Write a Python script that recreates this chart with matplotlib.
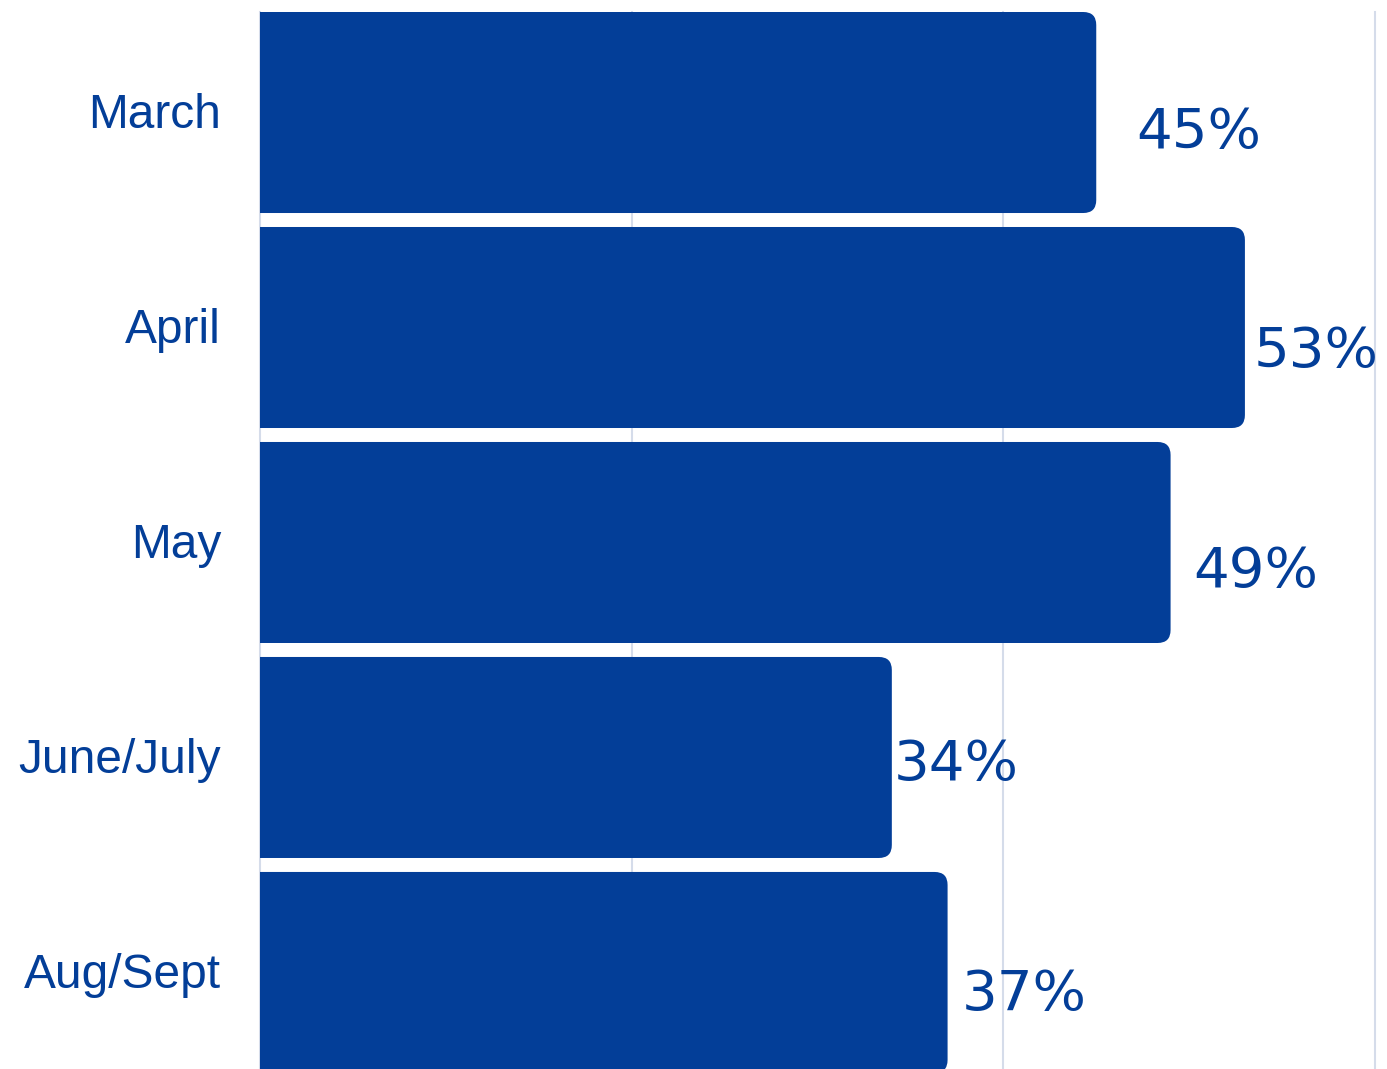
import matplotlib.pyplot as plt
from matplotlib.patches import FancyBboxPatch
from matplotlib.transforms import ScaledTranslation

months = ["March", "April", "May", "June/July", "Aug/Sept"]
shares = [45, 53, 49, 34, 37]
labels = ["45%", "53%", "49%", "34%", "37%"]

# where each value label sits relative to the end of its bar (pixels)
label_dx = [40, 9, 23, 2, 14]
label_dy = [-20, -25, -30, -8, -23]

blue = "#033e98"
grid = "#d5dcea"

fig = plt.figure(figsize=(13.87, 10.69), dpi=100)
ax = fig.add_axes([260 / 1387, 0, 1115 / 1387, 1057 / 1069])

ypos = list(range(len(months)))
bars = ax.barh(ypos, shares, height=0.935, color=blue, zorder=2)

ax.set_xlim(0, 60)
ax.set_ylim(4.449, -0.4675)

# swap the plain rectangles for ones rounded at the right end
px_x = 1115 / 60
px_y = 215
r = 13 / px_x
for b in bars:
    x, y = b.get_x(), b.get_y()
    w, h = b.get_width(), b.get_height()
    b.set_visible(False)
    box = FancyBboxPatch((x - 3, y), w + 3, h,
                         boxstyle=f"round,pad=0,rounding_size={r}",
                         mutation_aspect=px_x / px_y,
                         facecolor=blue, edgecolor="none", zorder=2)
    ax.add_patch(box)

for i, (v, t) in enumerate(zip(shares, labels)):
    ax.annotate(t, (v, i), xytext=(label_dx[i], label_dy[i]),
                textcoords="offset pixels", ha="left", va="center",
                fontsize=40.5, color=blue, family="DejaVu Sans", zorder=3)

ax.set_xticks([0, 20, 40, 60])
ax.set_xticklabels([])
ax.tick_params(axis="x", length=0)
ax.grid(axis="x", color=grid, linewidth=1.5, zorder=0)
for gl in ax.get_xgridlines():
    gl.set_clip_on(False)

ax.set_yticks(ypos)
ax.set_yticklabels(months, fontsize=34.5, color=blue, family="Liberation Sans")
ax.tick_params(axis="y", length=0, pad=28)
nudge = ScaledTranslation(0, 1.5 / 72, fig.dpi_scale_trans)
for lab in ax.get_yticklabels():
    lab.set_transform(lab.get_transform() + nudge)

for s in ax.spines.values():
    s.set_visible(False)

fig.savefig("out.png", dpi=100)
